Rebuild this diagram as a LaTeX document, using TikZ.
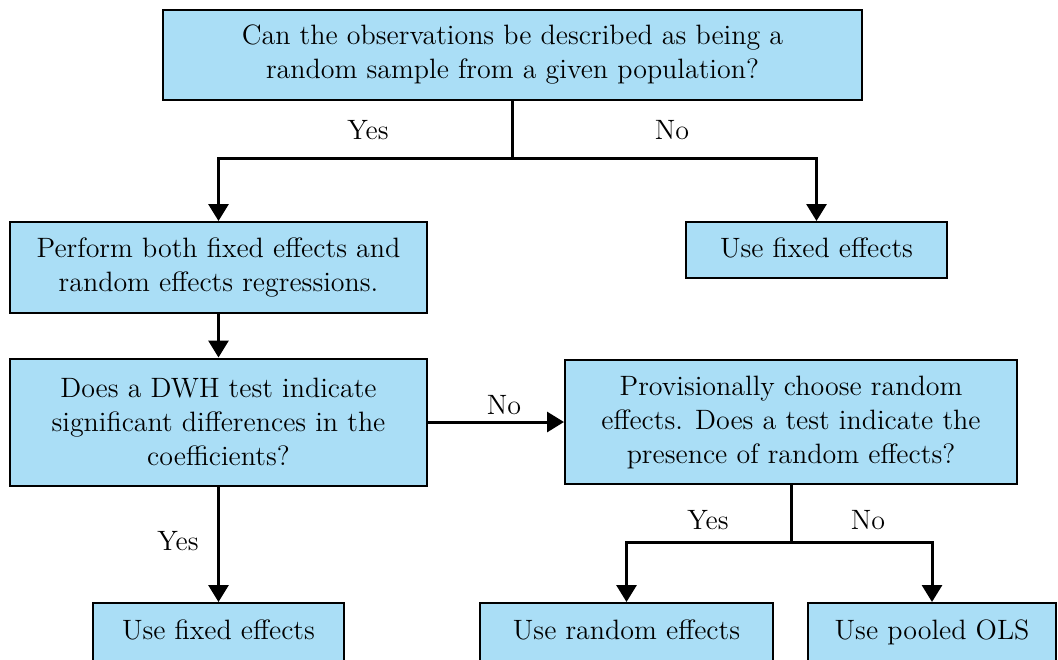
\documentclass[tikz,border=0pt]{standalone}
\usetikzlibrary{arrows.meta}
\usetikzlibrary{positioning}
\definecolor{boxblue}{RGB}{170,222,246}

\begin{document}
\begin{tikzpicture}[x=0.5pt,y=-0.5pt,
  box/.style={draw=black,line width=1pt,fill=boxblue,rectangle,inner sep=0pt,align=center,font=\fontsize{14}{17}\selectfont},
  onebox/.style={box,text height=10pt,text depth=3pt},
  flow/.style={draw=black,line width=1.5pt,-{Triangle[length=8.5pt,width=10pt]}},
  link/.style={draw=black,line width=1.5pt},
  lbl/.style={font=\fontsize{14}{17}\selectfont,text=black}]
\useasboundingbox (0,0) rectangle (1058,659);

\node[box,minimum width=349.5pt,minimum height=45pt] (q1) at (512.5,55) {Can the observations be described as being a\\random sample from a given population?};
\node[box,minimum width=208.5pt,minimum height=45.5pt] (both) at (218.5,267.5) {Perform both fixed effects and\\random effects regressions.};
\node[onebox,minimum width=130.5pt,minimum height=28pt] (fixR) at (816.5,250) {Use fixed effects};
\node[box,minimum width=208.5pt,minimum height=63.5pt] (dwh) at (218.5,422) {Does a DWH test indicate\\significant differences in the\\coefficients?};
\node[box,minimum width=226pt,minimum height=62pt] (prov) at (791,422) {Provisionally choose random\\effects. Does a test indicate the\\presence of random effects?};
\node[onebox,minimum width=125.5pt,minimum height=29pt] (fixB) at (218.5,632) {Use fixed effects};
\node[onebox,minimum width=146.5pt,minimum height=29pt] (rand) at (626.5,632) {Use random effects};
\node[onebox,minimum width=124pt,minimum height=29pt] (ols) at (932,632) {Use pooled OLS};

\coordinate (j1) at (512.5,158);
\coordinate (j2) at (791,542);

\draw[link] (q1.south) -- (j1);
\draw[flow] (j1) -| (both.north);
\draw[flow] (j1) -| (fixR.north);
\draw[flow] (both) -- (dwh);
\draw[flow] (dwh) -- (prov);
\draw[flow] (dwh) -- (fixB);
\draw[link] (prov.south) -- (j2);
\draw[flow] (j2) -| (rand.north);
\draw[flow] (j2) -| (ols.north);

\node[lbl] (yes1) at (368,130) {Yes};
\node[lbl] (no1) at (672,130) {No};
\node[lbl] (no2) at (504,405) {No};
\node[lbl] (yes2) at (178,541) {Yes};
\node[lbl] (yes3) at (708,520) {Yes};
\node[lbl] (no3) at (868,520) {No};

\end{tikzpicture}
\end{document}
